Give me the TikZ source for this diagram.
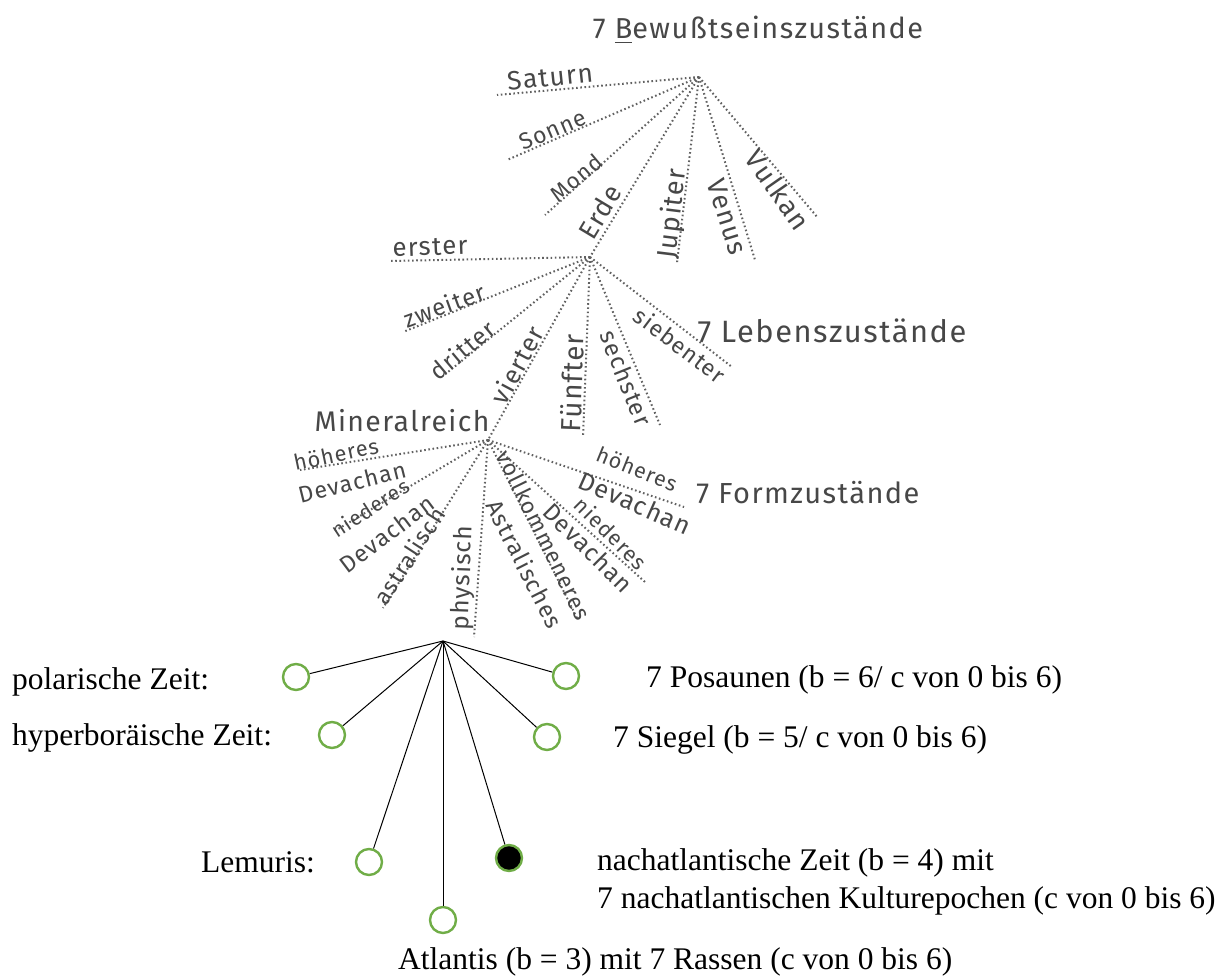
\documentclass[tikz,border=0pt]{standalone}
\usepackage{fontspec}
\usepackage{graphicx}
\setmainfont{Liberation Serif}
\newfontfamily\handfont[LetterSpace=5]{Fira Sans}
\newcommand{\hw}[2]{\resizebox{#1pt}{!}{\handfont #2}}
\definecolor{cgreen}{RGB}{112,173,71}
\begin{document}
\begin{tikzpicture}[x=1pt,y=-1pt,
  dl/.style={draw=black!62, line width=2pt, dash pattern=on 1.6pt off 2.6pt},
  lbl/.style={text=black!72, inner sep=0pt},
  circ/.style={circle, draw=cgreen, line width=2.4pt, minimum size=26pt, inner sep=0pt},
  tline/.style={black, line width=1pt},
  txt/.style={font=\fontsize{31.5}{38}\selectfont, anchor=west, inner sep=0pt}]
\fill[white] (0,0) rectangle (1230,979);
\useasboundingbox (0,0) rectangle (1230,979);

% hubs
\coordinate (h1) at (699,77);
\coordinate (h2) at (590,257);
\coordinate (h3) at (488,440);
\coordinate (h4) at (443,641);

% ends: Bewusstseinszustaende
\coordinate (eSat) at (497,95);
\coordinate (eSon) at (507,160);
\coordinate (eMon) at (545,215);
\coordinate (eJup) at (677,263);
\coordinate (eVen) at (755,260);
\coordinate (eVul) at (818,218);
% ends: Lebenszustaende
\coordinate (e1) at (390,261);
\coordinate (e2) at (403,332);
\coordinate (e3) at (443,376);
\coordinate (e5) at (583,437);
\coordinate (e6) at (660,425);
\coordinate (e7) at (732,367);
% ends: Formzustaende
\coordinate (f1) at (300,470);
\coordinate (f2) at (333,532);
\coordinate (f3) at (383,608);
\coordinate (f4) at (474,637);
\coordinate (f5) at (578,620);
\coordinate (f6) at (645,582);
\coordinate (f7) at (684,507);

\draw[dl] (h1) -- (eSat);
\draw[dl] (h1) -- (eSon);
\draw[dl] (h1) -- (eMon);
\draw[dl] (h1) -- (h2);
\draw[dl] (h1) -- (eJup);
\draw[dl] (h1) -- (eVen);
\draw[dl] (h1) -- (eVul);

\draw[dl] (h2) -- (e1);
\draw[dl] (h2) -- (e2);
\draw[dl] (h2) -- (e3);
\draw[dl] (h2) -- (h3);
\draw[dl] (h2) -- (e5);
\draw[dl] (h2) -- (e6);
\draw[dl] (h2) -- (e7);

\draw[dl] (h3) -- (f1);
\draw[dl] (h3) -- (f2);
\draw[dl] (h3) -- (f3);
\draw[dl] (h3) -- (f4);
\draw[dl] (h3) -- (f5);
\draw[dl] (h3) -- (f6);
\draw[dl] (h3) -- (f7);

% titles
\node[lbl] (T1) at (758,30) {\hw{330}{7 \underline{B}ewußtseinszustände}};
\node[lbl] (T2) at (832,331) {\hw{269}{7 Lebenszustände}};
\node[lbl] (T3) at (808,493) {\hw{223}{7 Formzustände}};

% labels level 1
\node[lbl, rotate=6] (tSat) at (550,77) {\hw{86}{Saturn}};
\node[lbl, rotate=23] (tSon) at (553,130) {\hw{70}{Sonne}};
\node[lbl, rotate=40] (tMon) at (576,178) {\hw{60}{Mond}};
\node[lbl, rotate=59] (tErd) at (600,212) {\hw{58}{Erde}};
\node[lbl, rotate=83] (tJup) at (673,214) {\hw{90}{Jupiter}};
\node[lbl, rotate=-73] (tVen) at (727,217) {\hw{78}{Venus}};
\node[lbl, rotate=-55] (tVul) at (778,190) {\hw{90}{Vulkan}};

% labels level 2
\node[lbl, rotate=2] (t1) at (430,247) {\hw{75}{erster}};
\node[lbl, rotate=20] (t2) at (444,305) {\hw{85}{zweiter}};
\node[lbl, rotate=40] (t3) at (462,350) {\hw{77}{dritter}};
\node[lbl, rotate=62] (t4) at (517,365) {\hw{84}{vierter}};
\node[lbl, rotate=88] (t5) at (572,383) {\hw{98}{Fünfter}};
\node[lbl, rotate=-68] (t6) at (626,378) {\hw{100}{sechster}};
\node[lbl, rotate=-37] (t7) at (680,345) {\hw{108}{siebenter}};

% labels level 3
\node[lbl] (tMin) at (402,421) {\hw{175}{Mineralreich}};
\node[lbl, rotate=12] (tf1a) at (336,454) {\hw{86}{höheres}};
\node[lbl, rotate=14] (tf1b) at (352,482) {\hw{110}{Devachan}};
\node[lbl, rotate=33] (tf2a) at (370,508) {\hw{88}{niederes}};
\node[lbl, rotate=37] (tf2b) at (387,534) {\hw{112}{Devachan}};
\node[lbl, rotate=57] (tf3) at (409,556) {\hw{110}{astralisch}};
\node[lbl, rotate=88] (tf4) at (463,578) {\hw{105}{physisch}};
\node[lbl, rotate=-64] (tf5a) at (544,535) {\hw{185}{vollkommeneres}};
\node[lbl, rotate=-63] (tf5b) at (525,564) {\hw{140}{Astralisches}};
\node[lbl, rotate=-45] (tf6a) at (611,533) {\hw{92}{niederes}};
\node[lbl, rotate=-45] (tf6b) at (588,548) {\hw{115}{Devachan}};
\node[lbl, rotate=-22] (tf7a) at (637,469) {\hw{85}{höheres}};
\node[lbl, rotate=-24] (tf7b) at (635,503) {\hw{120}{Devachan}};

% bottom tree
\node[circ] (cPol) at (296,677) {};
\node[circ] (cPos) at (566,676) {};
\node[circ] (cHyp) at (332,735) {};
\node[circ] (cSie) at (547,737) {};
\node[circ] (cLem) at (369,862) {};
\node[circ, fill=black] (cNach) at (509,858) {};
\node[circ] (cAtl) at (443,920) {};

\draw[tline] (h4) -- (cPol);
\draw[tline] (h4) -- (cPos);
\draw[tline] (h4) -- (cHyp);
\draw[tline] (h4) -- (cSie);
\draw[tline] (h4) -- (cLem);
\draw[tline] (h4) -- (cNach);
\draw[tline] (h4) -- (cAtl);

\node[txt] (xPol) at (12,682) {polarische Zeit:};
\node[txt] (xHyp) at (12,738) {hyperboräische Zeit:};
\node[txt, anchor=east] (xLem) at (315,862) {Lemuris:};
\node[txt] (xPos) at (646,680) {7 Posaunen (b = 6/ c von 0 bis 6)};
\node[txt] (xSie) at (613,740) {7 Siegel (b = 5/ c von 0 bis 6)};
\node[txt] (xNa1) at (597,863) {nachatlantische Zeit (b = 4) mit};
\node[txt] (xNa2) at (597,901) {7 nachatlantischen Kulturepochen (c von 0 bis 6)};
\node[txt] (xAtl) at (398,962) {Atlantis (b = 3) mit 7 Rassen (c von 0 bis 6)};
\end{tikzpicture}
\end{document}
